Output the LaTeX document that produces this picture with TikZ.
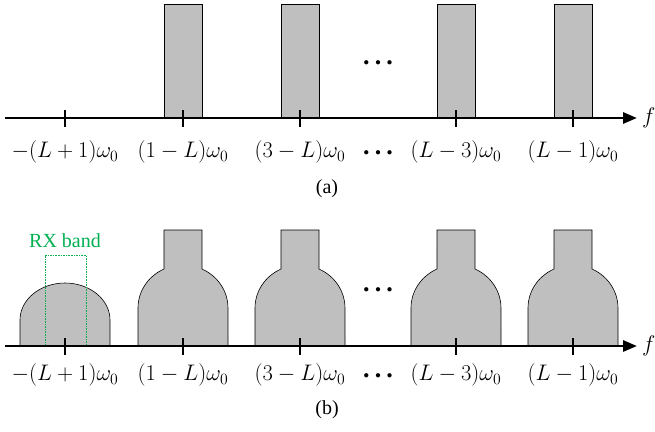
\RequirePackage{fix-cm}
\documentclass[tikz,border=0pt]{standalone}
\usepackage{fontspec}
\setmainfont{Liberation Serif}
\usetikzlibrary{positioning,arrows.meta}
\definecolor{banda}{HTML}{BFBFBF}
\definecolor{verde}{HTML}{00B050}
\newcommand{\puntos}{${\bullet}\mkern10mu{\bullet}\mkern10mu{\bullet}$}

\begin{document}
\begin{tikzpicture}[x=1pt, y=-1pt, >={Triangle[length=14pt,width=11pt]},
      band/.style={draw=black, fill=banda, line width=0.6pt},
      eje/.style={line width=2.8pt},
      marca/.style={line width=2.8pt},
      lab/.style={font=\fontsize{22.5}{26}\selectfont, inner sep=0pt},
      dots/.style={font=\fontsize{11}{13}\selectfont, inner sep=0pt},
      leyenda/.style={font=\fontsize{20}{24}\selectfont, inner sep=0pt}]
    \useasboundingbox (0,0) rectangle (655,431);
    % (a) pulsos estrechos
    \foreach \c in {183,300,456,573}
      \draw[band] (\c-19,118) rectangle (\c+19,4);
    \coordinate (a0) at (5,118);
    \coordinate (a1) at (637,118);
    \draw[eje,->] (a0) -- (a1);
    \node[lab, right=5pt of a1] (fa) {$f$};
    \node[dots] (da) at (378,63) {\puntos};
    % (b) bandas anchas
    \draw[band] (20,346) -- (20,320)
      arc[start angle=180, end angle=360, x radius=45, y radius=37] -- (110,346) -- cycle;
    \foreach \c in {183,300,456,573}
      \draw[band] (\c-45,346) -- (\c-45,308)
        arc[start angle=180, end angle=245, x radius=45, y radius=43]
        -- (\c-19,230) -- (\c+19,230) -- (\c+19,269)
        arc[start angle=295, end angle=360, x radius=45, y radius=43]
        -- (\c+45,346) -- cycle;
    \draw[verde, dash pattern=on 1.6pt off 1pt, line width=0.8pt] (45,346) rectangle (86,255);
    \node[leyenda, text=verde] (rx) at (65,241) {RX band};
    \coordinate (b0) at (5,346);
    \coordinate (b1) at (637,346);
    \draw[eje,->] (b0) -- (b1);
    \node[lab, right=5pt of b1] (fb) {$f$};
    \node[dots] (db) at (378,290) {\puntos};
    % marcas y etiquetas
    \foreach \c/\t in {65/{-(L+1)\omega_0}, 183/{(1-L)\omega_0}, 300/{(3-L)\omega_0},
                       456/{(L-3)\omega_0}, 573/{(L-1)\omega_0}} {
      \draw[marca] (\c,110) -- (\c,127);
      \draw[marca] (\c,338) -- (\c,355);
      \node[lab] at (\c,152) {$\t$};
      \node[lab] at (\c,375) {$\t$};
    }
    \node[dots] (la) at (378,153) {\puntos};
    \node[dots] (lb) at (378,376) {\puntos};
    \node[leyenda] (ca) at (327,189) {(a)};
    \node[leyenda] (cb) at (327,410) {(b)};
  \end{tikzpicture}
\end{document}
